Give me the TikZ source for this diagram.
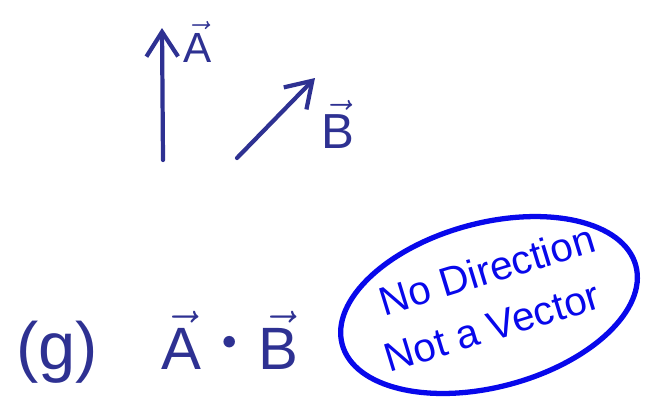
\documentclass[tikz,border=0pt]{standalone}
\usepackage{amsmath}
\usepackage{xcolor}
\usepackage{fontspec}
\setsansfont{Liberation Sans}
\usetikzlibrary{arrows.meta}

\definecolor{inkblue}{RGB}{46,49,146}
\definecolor{penblue}{RGB}{8,8,235}

\begin{document}
\begin{tikzpicture}[x=0.01cm, y=-0.01cm, every node/.style={font=\sffamily, inner sep=0pt},
    vec/.style={-{Straight Barb[length=7pt, width=9pt]}, line width=1.2pt, line cap=round, inkblue},
    ink/.style={text=inkblue},
    pen/.style={text=penblue, font=\sffamily\fontsize{11.5}{12}\selectfont, rotate=17}]
      \useasboundingbox (0,0) rectangle (649,396);
      % the two vectors
      \coordinate (Atail) at (163,160);
      \coordinate (Ahead) at (162,28);
      \coordinate (Btail) at (237,158);
      \coordinate (Bhead) at (315,78);
      \draw[vec] (Atail) -- (Ahead);
      \draw[vec] (Btail) -- (Bhead);
      \node[ink, font=\fontsize{12}{13}\selectfont] (labA) at (198,42) {$\vec{\mathsf{A}}$};
      \node[ink, font=\fontsize{14}{15}\selectfont] (labB) at (338,124) {$\vec{\mathsf{B}}$};
      % part (g)
      \node[ink, font=\sffamily\fontsize{19}{21}\selectfont] (part) at (57,352) {(g)};
      \node[ink, font=\fontsize{17}{18}\selectfont] (prod) at (230,340) {$\vec{\mathsf{A}}\mathbin{\scalebox{1.8}{$\cdot$}}\vec{\mathsf{B}}$};
      % the remark
      \draw[penblue, line width=1.5pt] (489,305) [rotate around={15:(489,305)}] ellipse [x radius=152, y radius=82];
      \node[pen] (nodir) at (487,270) {No Direction};
      \node[pen] (notvec) at (492,327) {Not a Vector};
    \end{tikzpicture}
\end{document}
